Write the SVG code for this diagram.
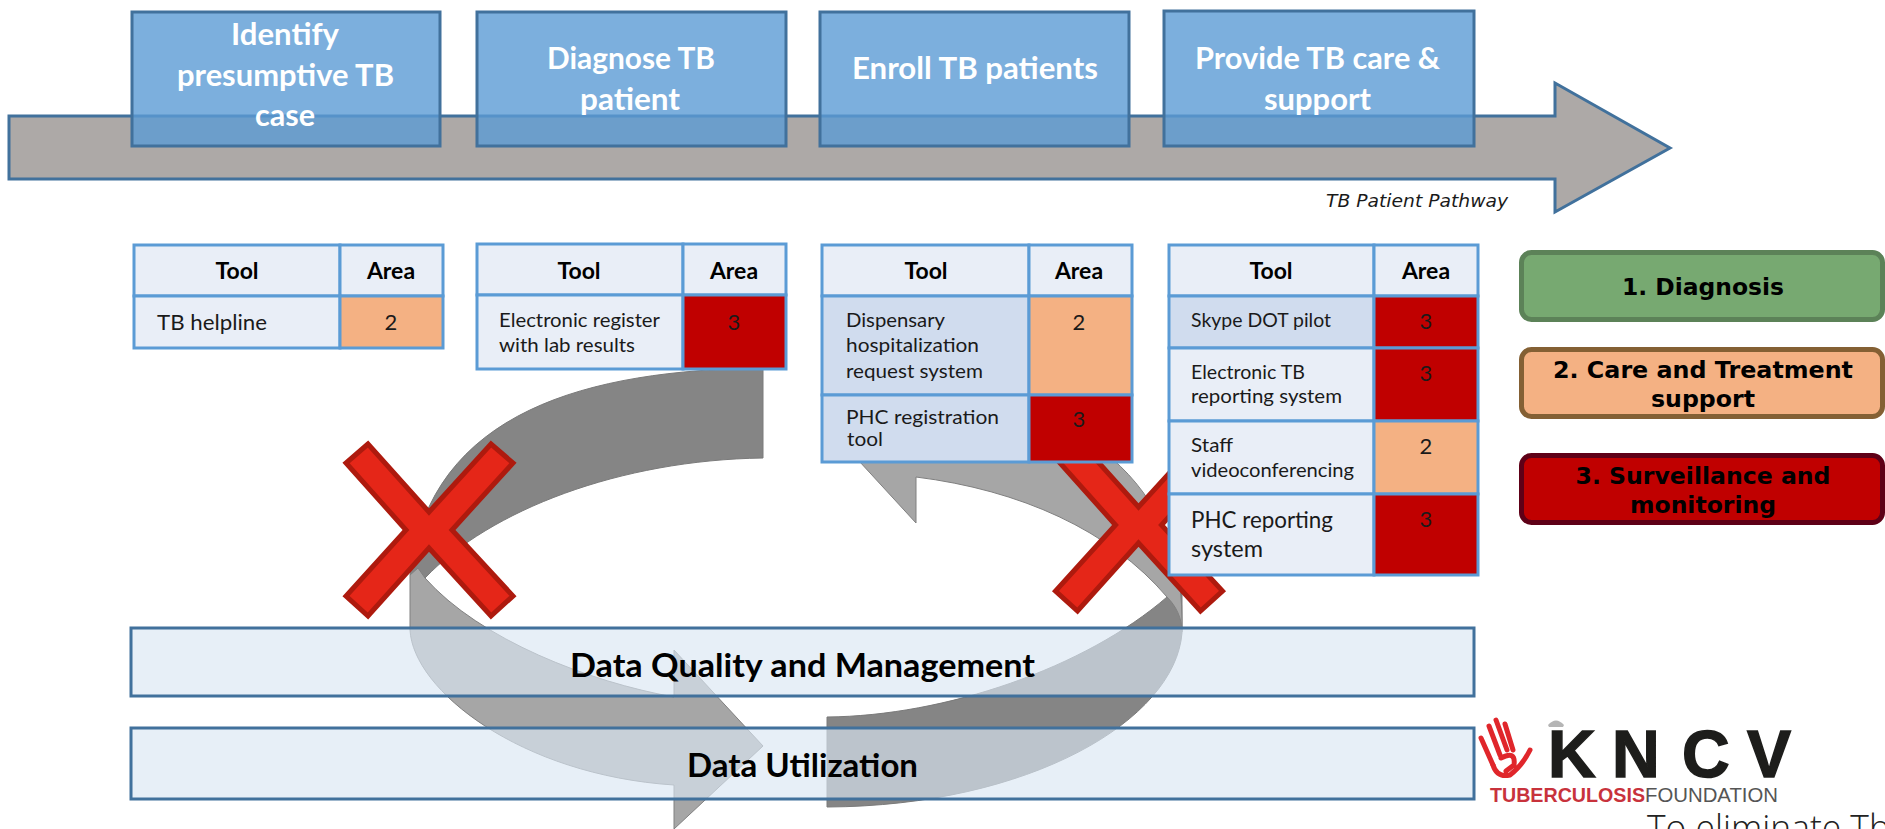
<svg xmlns="http://www.w3.org/2000/svg" width="1885" height="829" viewBox="0 0 1885 829">
<defs>
<style>
text{font-family:Lato,"Open Sans",sans-serif;fill:#1a1a1a}
.tt{font-size:30px;font-weight:700;fill:#fff}
.h{font-size:23px;font-weight:700;fill:#000;text-anchor:middle}
.c{font-size:20px}
.n{font-size:22px;text-anchor:middle}
.b{font-size:32px;font-weight:700;fill:#000}
.lg{font-family:"DejaVu Sans",sans-serif;font-size:23.5px;font-weight:700;fill:#000;text-anchor:middle}
.step{fill:#5b9bd5;fill-opacity:.8;stroke:#41719c;stroke-width:3}
.cell{fill:#e9eef7;stroke:#5b9bd5;stroke-width:3}
.alt{fill:#d0dcee;stroke:#5b9bd5;stroke-width:3}
.o{fill:#f4b183;stroke:#5b9bd5;stroke-width:3}
.r{fill:#c00000;stroke:#5b9bd5;stroke-width:3}
.bar{fill:rgb(218,230,243);fill-opacity:.65;stroke:#41719c;stroke-width:3}
.dk{fill:#858585;stroke:#7a7a7a;stroke-width:1}
.lt{fill:#a6a6a6;stroke:#808080;stroke-width:1}
.x{fill:#e52618;stroke:#ae1a0e;stroke-width:5;stroke-linejoin:miter}
.fg{fill:none;stroke:#e0262b;stroke-width:5;stroke-linecap:round}
</style>
<polygon id="cross" points="368,444 346,463 406,530 346,596 368,616 429,548 491,616 513,596 452,530 513,463 491,444 429,512"/>
</defs>

<g id="pathway-arrow">
<polygon points="9,116 1555,116 1555,83 1670,148 1555,212 1555,179 9,179" fill="#ada9a7" stroke="#41719c" stroke-width="3"/>
<text x="1326" y="207" style="font-family:'DejaVu Sans',sans-serif;font-size:18px;font-style:italic" textLength="182" lengthAdjust="spacingAndGlyphs">TB Patient Pathway</text>
</g>

<g id="step-identify">
<rect class="step" x="132" y="12" width="308" height="134"/>
<text class="tt" x="231" y="45" textLength="108" lengthAdjust="spacingAndGlyphs">Identify</text>
<text class="tt" x="177" y="86" textLength="217" lengthAdjust="spacingAndGlyphs">presumptive TB</text>
<text class="tt" x="255" y="126" textLength="60" lengthAdjust="spacingAndGlyphs">case</text>
</g>
<g id="step-diagnose">
<rect class="step" x="477" y="12" width="309" height="134"/>
<text class="tt" x="547" y="69" textLength="168" lengthAdjust="spacingAndGlyphs">Diagnose TB</text>
<text class="tt" x="580" y="110" textLength="100" lengthAdjust="spacingAndGlyphs">patient</text>
</g>
<g id="step-enroll">
<rect class="step" x="820" y="12" width="309" height="134"/>
<text class="tt" x="852" y="79" textLength="246" lengthAdjust="spacingAndGlyphs">Enroll TB patients</text>
</g>
<g id="step-care">
<rect class="step" x="1164" y="11" width="310" height="135"/>
<text class="tt" x="1195" y="69" textLength="245" lengthAdjust="spacingAndGlyphs">Provide TB care &amp;</text>
<text class="tt" x="1264" y="110" textLength="107" lengthAdjust="spacingAndGlyphs">support</text>
</g>

<g id="connectors">
<path class="dk" d="M827 717 C945 716,1085 668,1167 597 L1182 590 L1182 633 C1175 720,1030 806,827 807 Z"/>
<path class="lt" d="M1167 597 C1176 606,1182 618,1182 632 L1182 620 C1182 470,1060 395,916 395 L916 380 L825 424 L916 523 L916 477 C1020 490,1110 530,1167 597 Z"/>
<path class="dk" d="M763 368 C590 370,430 410,410 575 L425 578 C490 510,620 460,763 458 Z"/>
<path class="lt" d="M418 568 L410 575 L410 630 C413 690,520 775,674 785 L674 829 L763 746 L674 650 L674 697 C590 682,480 640,425 578 Z"/>
</g>

<g id="cross-left"><use href="#cross" class="x"/></g>
<g id="cross-right"><use href="#cross" class="x" transform="translate(709.5,-5)"/></g>

<g id="table-1">
<rect class="cell" x="134" y="245" width="206" height="51"/><rect class="cell" x="340" y="245" width="103" height="51"/>
<rect class="cell" x="134" y="296" width="206" height="52"/><rect class="o" x="340" y="296" width="103" height="52"/>
<text class="h" x="237" y="279">Tool</text><text class="h" x="391" y="279">Area</text>
<text class="c" x="157" y="330" textLength="110" lengthAdjust="spacingAndGlyphs" style="font-size:22px">TB helpline</text>
<text class="n" x="391" y="330">2</text>
</g>

<g id="table-2">
<rect class="cell" x="477" y="244" width="206" height="51"/><rect class="cell" x="683" y="244" width="103" height="51"/>
<rect class="cell" x="477" y="295" width="206" height="74"/><rect class="r" x="683" y="295" width="103" height="74"/>
<text class="h" x="579" y="279">Tool</text><text class="h" x="734" y="279">Area</text>
<text class="c" x="499" y="327" textLength="161" lengthAdjust="spacingAndGlyphs">Electronic register</text>
<text class="c" x="499" y="352" textLength="136" lengthAdjust="spacingAndGlyphs">with lab results</text>
<text class="n" x="734" y="330">3</text>
</g>

<g id="table-3">
<rect class="cell" x="822" y="245" width="207" height="51"/><rect class="cell" x="1029" y="245" width="103" height="51"/>
<rect class="alt" x="822" y="296" width="207" height="99"/><rect class="o" x="1029" y="296" width="103" height="99"/>
<rect class="alt" x="822" y="395" width="207" height="67"/><rect class="r" x="1029" y="395" width="103" height="67"/>
<text class="h" x="926" y="279">Tool</text><text class="h" x="1079" y="279">Area</text>
<text class="c" x="846" y="327" textLength="99" lengthAdjust="spacingAndGlyphs">Dispensary</text>
<text class="c" x="846" y="352" textLength="133" lengthAdjust="spacingAndGlyphs">hospitalization</text>
<text class="c" x="846" y="378" textLength="137" lengthAdjust="spacingAndGlyphs">request system</text>
<text class="c" x="846" y="424" textLength="153" lengthAdjust="spacingAndGlyphs">PHC registration</text>
<text class="c" x="847" y="446" textLength="36" lengthAdjust="spacingAndGlyphs">tool</text>
<text class="n" x="1079" y="330">2</text><text class="n" x="1079" y="427">3</text>
</g>

<g id="table-4">
<rect class="cell" x="1169" y="245" width="205" height="51"/><rect class="cell" x="1374" y="245" width="104" height="51"/>
<rect class="alt" x="1169" y="296" width="205" height="52"/><rect class="r" x="1374" y="296" width="104" height="52"/>
<rect class="cell" x="1169" y="348" width="205" height="73"/><rect class="r" x="1374" y="348" width="104" height="73"/>
<rect class="cell" x="1169" y="421" width="205" height="73"/><rect class="o" x="1374" y="421" width="104" height="73"/>
<rect class="cell" x="1169" y="494" width="205" height="81"/><rect class="r" x="1374" y="494" width="104" height="81"/>
<text class="h" x="1271" y="279">Tool</text><text class="h" x="1426" y="279">Area</text>
<text class="c" x="1191" y="327" textLength="140" lengthAdjust="spacingAndGlyphs">Skype DOT pilot</text>
<text class="c" x="1191" y="379" textLength="114" lengthAdjust="spacingAndGlyphs">Electronic TB</text>
<text class="c" x="1191" y="403" textLength="151" lengthAdjust="spacingAndGlyphs">reporting system</text>
<text class="c" x="1191" y="452" textLength="42" lengthAdjust="spacingAndGlyphs">Staff</text>
<text class="c" x="1191" y="477" textLength="163" lengthAdjust="spacingAndGlyphs">videoconferencing</text>
<text class="c" x="1191" y="528" textLength="142" lengthAdjust="spacingAndGlyphs" style="font-size:23px">PHC reporting</text>
<text class="c" x="1191" y="557" textLength="72" lengthAdjust="spacingAndGlyphs" style="font-size:23px">system</text>
<text class="n" x="1426" y="329">3</text><text class="n" x="1426" y="381">3</text><text class="n" x="1426" y="454">2</text><text class="n" x="1426" y="527">3</text>
</g>

<g id="legend-diagnosis">
<rect x="1521.5" y="252.5" width="361" height="67" rx="10" fill="#77a971" stroke="#5c8258" stroke-width="5"/>
<text class="lg" x="1703" y="295" textLength="162" lengthAdjust="spacingAndGlyphs">1. Diagnosis</text>
</g>
<g id="legend-care">
<rect x="1521.5" y="349.5" width="361" height="67" rx="10" fill="#f4b183" stroke="#846034" stroke-width="5"/>
<text class="lg" x="1703" y="378" textLength="300" lengthAdjust="spacingAndGlyphs">2. Care and Treatment</text>
<text class="lg" x="1703" y="407" textLength="104" lengthAdjust="spacingAndGlyphs">support</text>
</g>
<g id="legend-surveillance">
<rect x="1521.5" y="455.5" width="361" height="67" rx="10" fill="#c00000" stroke="#5e0017" stroke-width="5"/>
<text class="lg" x="1703" y="484" textLength="255" lengthAdjust="spacingAndGlyphs">3. Surveillance and</text>
<text class="lg" x="1703" y="513" textLength="146" lengthAdjust="spacingAndGlyphs">monitoring</text>
</g>

<g id="bar-quality">
<rect class="bar" x="131" y="628" width="1343" height="68"/>
<text class="b" x="570" y="677" textLength="465" lengthAdjust="spacingAndGlyphs">Data Quality and Management</text>
</g>
<g id="bar-utilization">
<rect class="bar" x="131" y="728" width="1343" height="71"/>
<text class="b" x="687" y="777" textLength="231" lengthAdjust="spacingAndGlyphs">Data Utilization</text>
</g>

<g id="logo">
<path d="M1548 725 Q1556 716 1564 725 L1563 727 L1549 727 Z" fill="#b5b5b5"/>
<path class="fg" d="M1493 765 L1481 738 M1500 755 L1489 726 M1507 750 L1496 720 M1513 750 L1505 724"/>
<path class="fg" d="M1493 765 Q1497 778 1510 775 Q1522 766 1530 750 M1501 758 Q1516 750 1514 765 L1506 771"/>
<text x="1548 1612 1682 1747" y="777" style="font-family:'Liberation Sans',sans-serif;font-size:66px;font-weight:700;fill:#1d1d1b;stroke:#1d1d1b;stroke-width:1.5">KNCV</text>
<text x="1490" y="802" textLength="155" lengthAdjust="spacingAndGlyphs" style="font-family:'Liberation Sans',sans-serif;font-size:20px;font-weight:700;fill:#c8323c">TUBERCULOSIS</text>
<text x="1645" y="802" textLength="133" lengthAdjust="spacingAndGlyphs" style="font-family:'Liberation Sans',sans-serif;font-size:20px;fill:#555">FOUNDATION</text>
<text x="1647" y="841" textLength="243" lengthAdjust="spacingAndGlyphs" style="font-family:'Open Sans',sans-serif;font-size:36px;font-weight:300;fill:#222">To eliminate Tb</text>
</g>
</svg>
